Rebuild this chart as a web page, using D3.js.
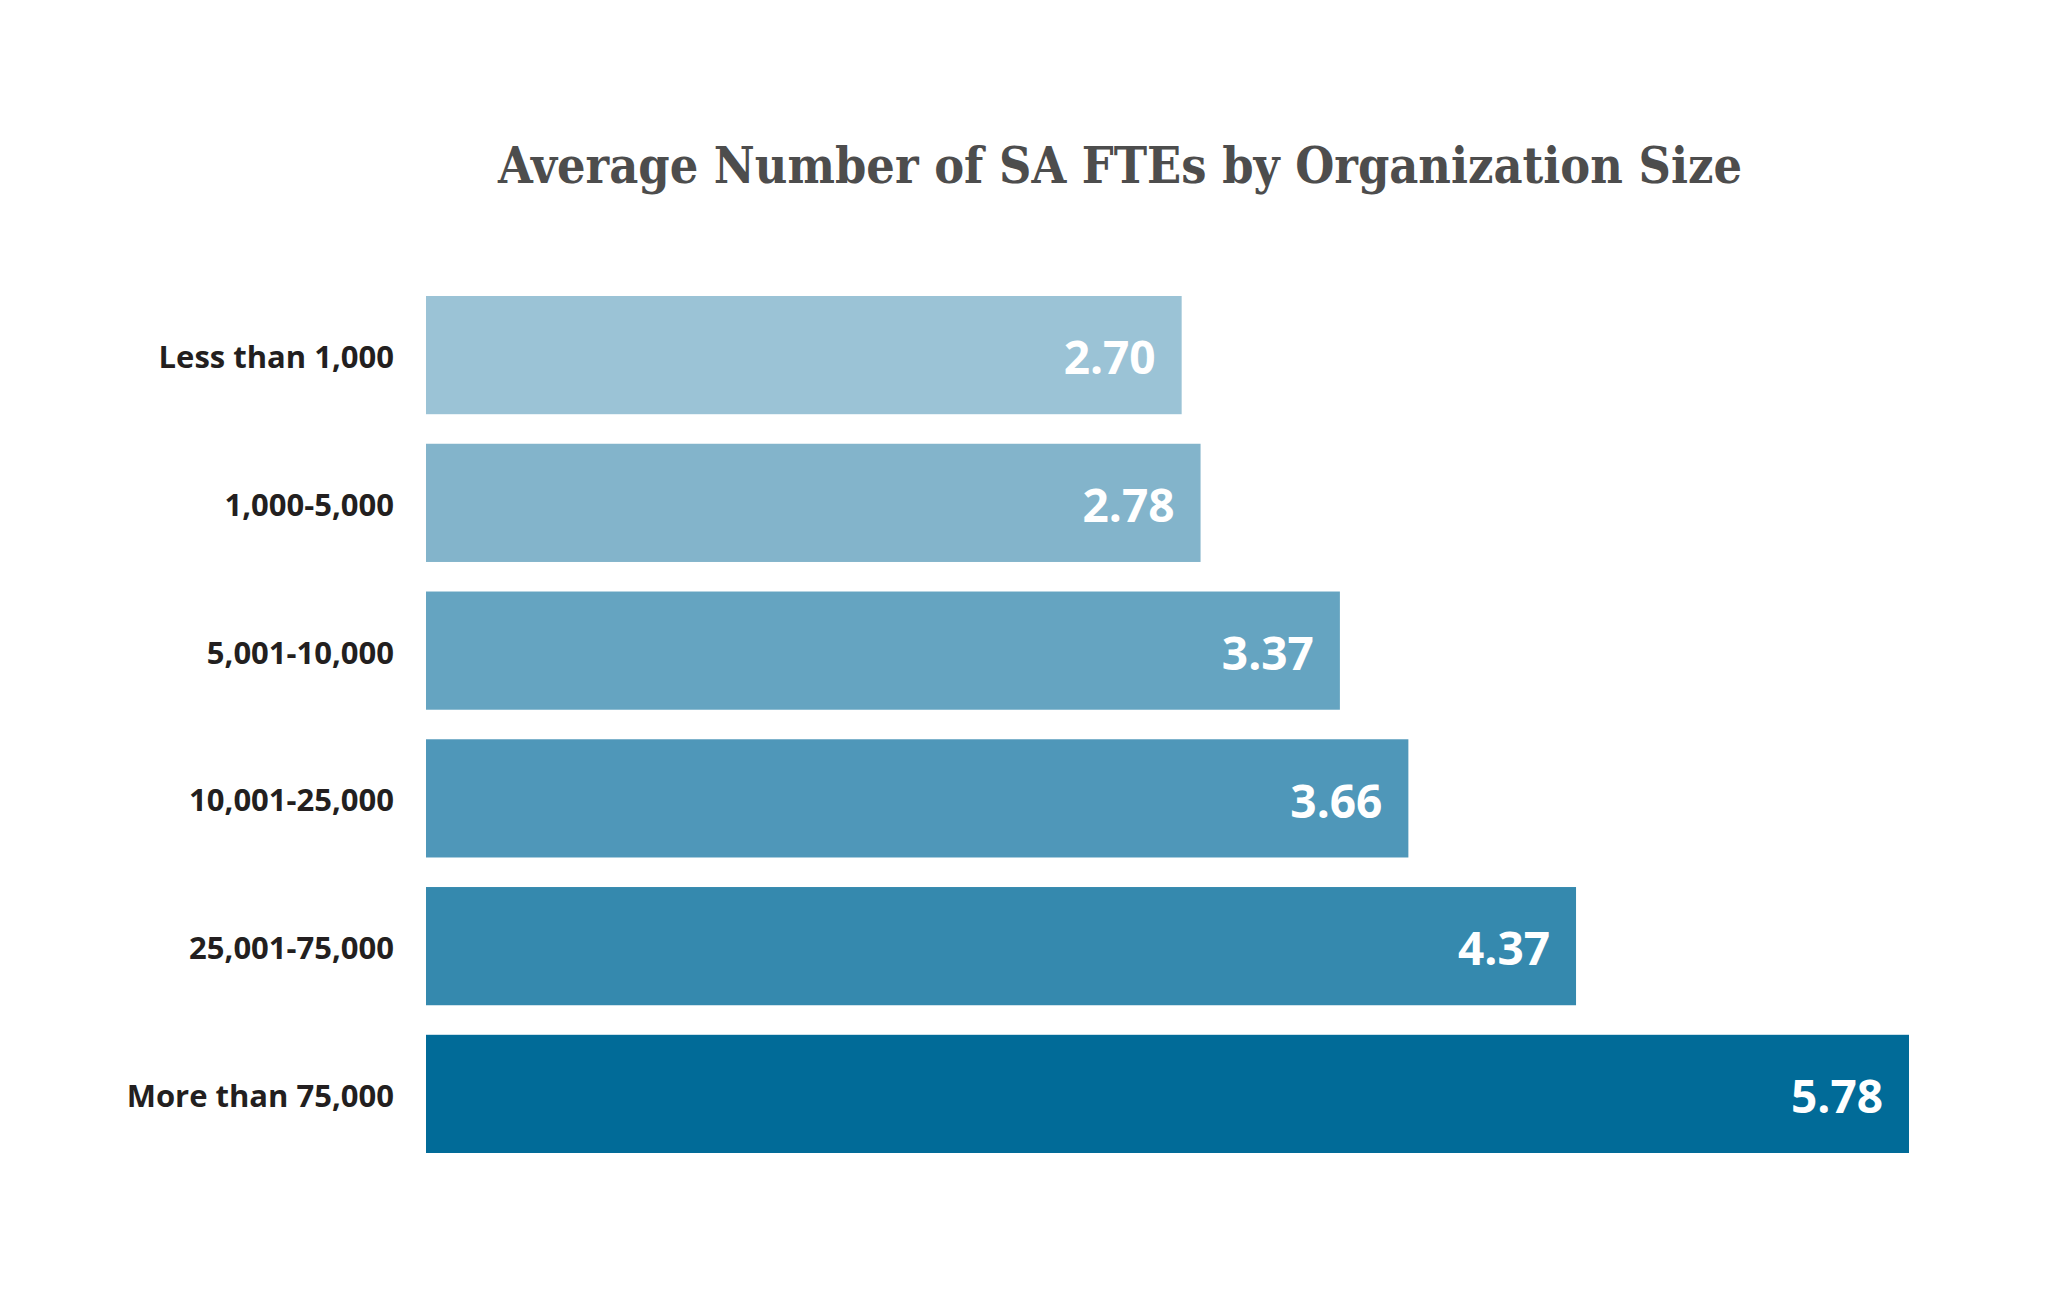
<!DOCTYPE html>
<html>
<head>
<meta charset="utf-8">
<script src="https://cdn.jsdelivr.net/npm/d3@7"></script>
<style>
  html, body { margin: 0; padding: 0; background: #fff; }
  .cat { font-family: "Open Sans", sans-serif; font-weight: 700; fill: #231f20; }
  .val { font-family: "Open Sans", sans-serif; font-weight: 700; fill: #fff; }
  .title { font-family: "DejaVu Serif", serif; font-weight: 700; fill: #4d4d4d; }
</style>
</head>
<body>
<div id="chart"></div>
<script>
const categories = ["Less than 1,000", "1,000-5,000", "5,001-10,000", "10,001-25,000", "25,001-75,000", "More than 75,000"];
const values = [2.70, 2.78, 3.37, 3.66, 4.37, 5.78];
const colors = ["#9bc3d6", "#83b4cb", "#65a4c1", "#4f97b9", "#3589ae", "#016b98"];
const titleText = "Average Number of SA FTEs by Organization Size";

const width = 2070, height = 1292;

const svg = d3.select("#chart")
  .append("svg")
  .attr("width", width)
  .attr("height", height);

const x = d3.scaleLinear()
  .domain([-0.5, 5.78])
  .range([426, 1909]);

const y = d3.scaleBand()
  .domain(categories)
  .range([296, 1153])
  .paddingInner(0.2)
  .paddingOuter(0);

svg.append("text")
  .attr("class", "title")
  .attr("x", 1120)
  .attr("y", 183)
  .attr("text-anchor", "middle")
  .attr("font-size", 50)
  .attr("textLength", 1244)
  .attr("lengthAdjust", "spacingAndGlyphs")
  .text(titleText);

const rows = categories.map((c, i) => ({ cat: c, val: values[i], color: colors[i] }));

svg.selectAll("rect.bar")
  .data(rows)
  .enter()
  .append("rect")
  .attr("class", "bar")
  .attr("x", x(-0.5))
  .attr("y", d => y(d.cat))
  .attr("width", d => x(d.val) - x(-0.5))
  .attr("height", y.bandwidth())
  .attr("fill", d => d.color);

svg.selectAll("text.val")
  .data(rows)
  .enter()
  .append("text")
  .attr("class", "val")
  .attr("x", d => x(d.val) - 26)
  .attr("y", d => y(d.cat) + y.bandwidth() / 2)
  .attr("dy", "0.42em")
  .attr("text-anchor", "end")
  .attr("font-size", 46)
  .text(d => d.val.toFixed(2));

svg.selectAll("text.cat")
  .data(rows)
  .enter()
  .append("text")
  .attr("class", "cat")
  .attr("x", 394)
  .attr("y", d => y(d.cat) + y.bandwidth() / 2)
  .attr("dy", "0.42em")
  .attr("text-anchor", "end")
  .attr("font-size", 31)
  .text(d => d.cat);
</script>
</body>
</html>
